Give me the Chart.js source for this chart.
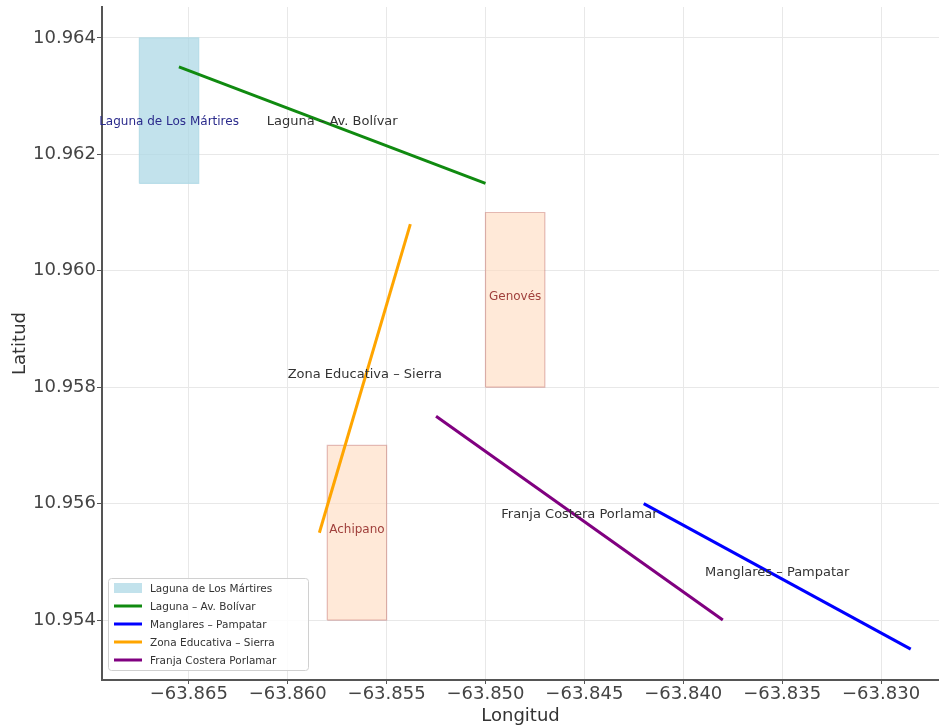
<!DOCTYPE html>
<html>
<head>
<meta charset="utf-8">
<script src="https://cdn.jsdelivr.net/npm/chart.js@4/dist/chart.umd.min.js"></script>
<style>
  body { margin: 0; background: #fff; }
  #wrap { width: 939px; height: 727px; position: relative; }
</style>
</head>
<body>
<div id="wrap"><canvas id="mapChart"></canvas></div>
<script>
// zonas (rectangulos)
const zoneNames = ["Laguna de Los Mártires", "Genovés", "Achipano"];
const zoneLonMin = [-63.8675, -63.8500, -63.8580];
const zoneLonMax = [-63.8645, -63.8470, -63.8550];
const zoneLatMin = [10.9615, 10.9580, 10.9540];
const zoneLatMax = [10.9640, 10.9610, 10.9570];
const zoneLabelLat = [10.9625, 10.9595, 10.9555];
const zoneInLegend = [true, false, false];

// rutas (lineas)
const routeNames = ["Laguna – Av. Bolívar", "Manglares – Pampatar", "Zona Educativa – Sierra", "Franja Costera Porlamar"];
const routeLonStart = [-63.8655, -63.8420, -63.8584, -63.8525];
const routeLatStart = [10.9635, 10.9560, 10.9555, 10.9575];
const routeLonEnd = [-63.8500, -63.8285, -63.8538, -63.8380];
const routeLatEnd = [10.9615, 10.9535, 10.9608, 10.9540];

const lonTicks = [-63.865, -63.860, -63.855, -63.850, -63.845, -63.840, -63.835, -63.830];
const latTicks = [10.954, 10.956, 10.958, 10.960, 10.962, 10.964];

// estilos
const zoneFill = ["rgba(173,216,230,0.75)", "rgba(255,218,190,0.6)", "rgba(255,218,190,0.6)"];
const zoneEdge = ["rgba(173,216,230,0.75)", "rgba(165,42,42,0.3)", "rgba(165,42,42,0.3)"];
const zoneText = ["#2b2b8c", "#a0403c", "#a0403c"];
const routeColors = ["#108a10", "#0000ff", "#ffa500", "#800080"];
const FONT = "'DejaVu Sans', sans-serif";

const datasets = [];
routeNames.forEach((name, i) => {
    datasets.push({
        label: name,
        data: [{x: routeLonStart[i], y: routeLatStart[i]}, {x: routeLonEnd[i], y: routeLatEnd[i]}],
        showLine: true,
        borderColor: routeColors[i],
        backgroundColor: routeColors[i],
        borderWidth: 3,
        pointRadius: 0,
        fill: false,
        order: 0,
    });
});
zoneNames.forEach((name, i) => {
    datasets.push({
        label: name,
        data: [
            {x: zoneLonMin[i], y: zoneLatMin[i]},
            {x: zoneLonMax[i], y: zoneLatMin[i]},
            {x: zoneLonMax[i], y: zoneLatMax[i]},
            {x: zoneLonMin[i], y: zoneLatMax[i]},
            {x: zoneLonMin[i], y: zoneLatMin[i]},
        ],
        showLine: true,
        borderColor: zoneEdge[i],
        backgroundColor: zoneFill[i],
        borderWidth: 1.2,
        pointRadius: 0,
        fill: "shape",
        order: 1,
    });
});

// etiquetas de texto sobre el mapa (ancladas en la linea base, como matplotlib)
const labelPlugin = {
    id: "mapLabels",
    afterDatasetsDraw(chart) {
        const ctx = chart.ctx, sx = chart.scales.x, sy = chart.scales.y;
        ctx.save();
        ctx.textAlign = "center";
        ctx.textBaseline = "alphabetic";
        ctx.font = "12px " + FONT;
        zoneNames.forEach((name, i) => {
            ctx.fillStyle = zoneText[i];
            ctx.fillText(name, sx.getPixelForValue((zoneLonMin[i] + zoneLonMax[i]) / 2),
                sy.getPixelForValue(zoneLabelLat[i]));
        });
        ctx.font = "13px " + FONT;
        routeNames.forEach((name, i) => {
            ctx.fillStyle = "#333";
            ctx.fillText(name, sx.getPixelForValue((routeLonStart[i] + routeLonEnd[i]) / 2),
                sy.getPixelForValue((routeLatStart[i] + routeLatEnd[i]) / 2));
        });
        ctx.restore();
    }
};

// leyenda dentro del area, abajo a la izquierda
const legendPlugin = {
    id: "boxLegend",
    afterDraw(chart) {
        const ctx = chart.ctx, area = chart.chartArea;
        const items = [];
        zoneNames.forEach((n, i) => { if (zoneInLegend[i]) items.push({name: n, color: zoneFill[i], patch: true}); });
        routeNames.forEach((n, i) => items.push({name: n, color: routeColors[i], patch: false}));
        const rowH = 18, w = 200, h = (items.length - 1) * rowH + 20;
        const x0 = area.left + 6, y0 = area.bottom - 10 - h;
        ctx.save();
        ctx.fillStyle = "rgba(255,255,255,0.85)";
        ctx.strokeStyle = "#d0d0d0";
        ctx.lineWidth = 1;
        ctx.beginPath();
        if (ctx.roundRect) ctx.roundRect(x0 + 0.5, y0 + 0.5, w, h, 3); else ctx.rect(x0 + 0.5, y0 + 0.5, w, h);
        ctx.fill();
        ctx.stroke();
        ctx.font = "10.5px " + FONT;
        ctx.textBaseline = "middle";
        items.forEach((it, k) => {
            const cy = y0 + 10 + k * rowH;
            if (it.patch) {
                ctx.fillStyle = it.color;
                ctx.fillRect(x0 + 6, cy - 5, 28, 10);
            } else {
                ctx.strokeStyle = it.color;
                ctx.lineWidth = 3;
                ctx.beginPath();
                ctx.moveTo(x0 + 6, cy);
                ctx.lineTo(x0 + 34, cy);
                ctx.stroke();
            }
            ctx.fillStyle = "#333";
            ctx.fillText(it.name, x0 + 42, cy + 1);
        });
        ctx.restore();
    }
};

const fmtTick = (v) => Number(v).toFixed(3).replace("-", "\u2212");

const ctx = document.getElementById("mapChart").getContext("2d");
const mapChart = new Chart(ctx, {
    type: "scatter",
    data: { datasets: datasets },
    options: {
        responsive: true,
        maintainAspectRatio: false,
        animation: false,
        layout: { padding: { top: 7, right: 0, left: 0, bottom: 0 } },
        elements: { line: { tension: 0 } },
        plugins: {
            legend: { display: false },
            tooltip: { enabled: false },
        },
        scales: {
            x: {
                type: "linear",
                min: -63.86939,
                max: -63.82707,
                afterBuildTicks: (scale) => { scale.ticks = lonTicks.map(v => ({ value: v })); },
                afterFit: (scale) => { scale.height = 47; scale.paddingLeft = 0; scale.paddingRight = 0; },
                ticks: {
                    callback: fmtTick,
                    color: "#444",
                    font: { family: FONT, size: 18 },
                    padding: 0,
                    maxRotation: 0,
                    autoSkip: false,
                },
                grid: { color: "#e8e8e8", lineWidth: 1, tickLength: 4, tickColor: "#555" },
                border: { display: true, color: "#555", width: 2 },
                title: { display: true, text: "Longitud", color: "#333", font: { family: FONT, size: 18 }, padding: { top: 0, bottom: 0 } },
            },
            y: {
                type: "linear",
                min: 10.95297,
                max: 10.96453,
                afterBuildTicks: (scale) => { scale.ticks = latTicks.map(v => ({ value: v })); },
                afterFit: (scale) => { scale.width = 102; scale.paddingTop = 0; scale.paddingBottom = 0; },
                ticks: {
                    callback: fmtTick,
                    color: "#444",
                    font: { family: FONT, size: 18 },
                    padding: 1,
                    autoSkip: false,
                },
                grid: { color: "#e8e8e8", lineWidth: 1, tickLength: 5, tickColor: "#555" },
                border: { display: true, color: "#555", width: 2 },
                title: { display: true, text: "Latitud", color: "#333", font: { family: FONT, size: 18 }, padding: { top: 10, bottom: 0 } },
            },
        },
    },
    plugins: [labelPlugin, legendPlugin],
});
</script>
</body>
</html>
